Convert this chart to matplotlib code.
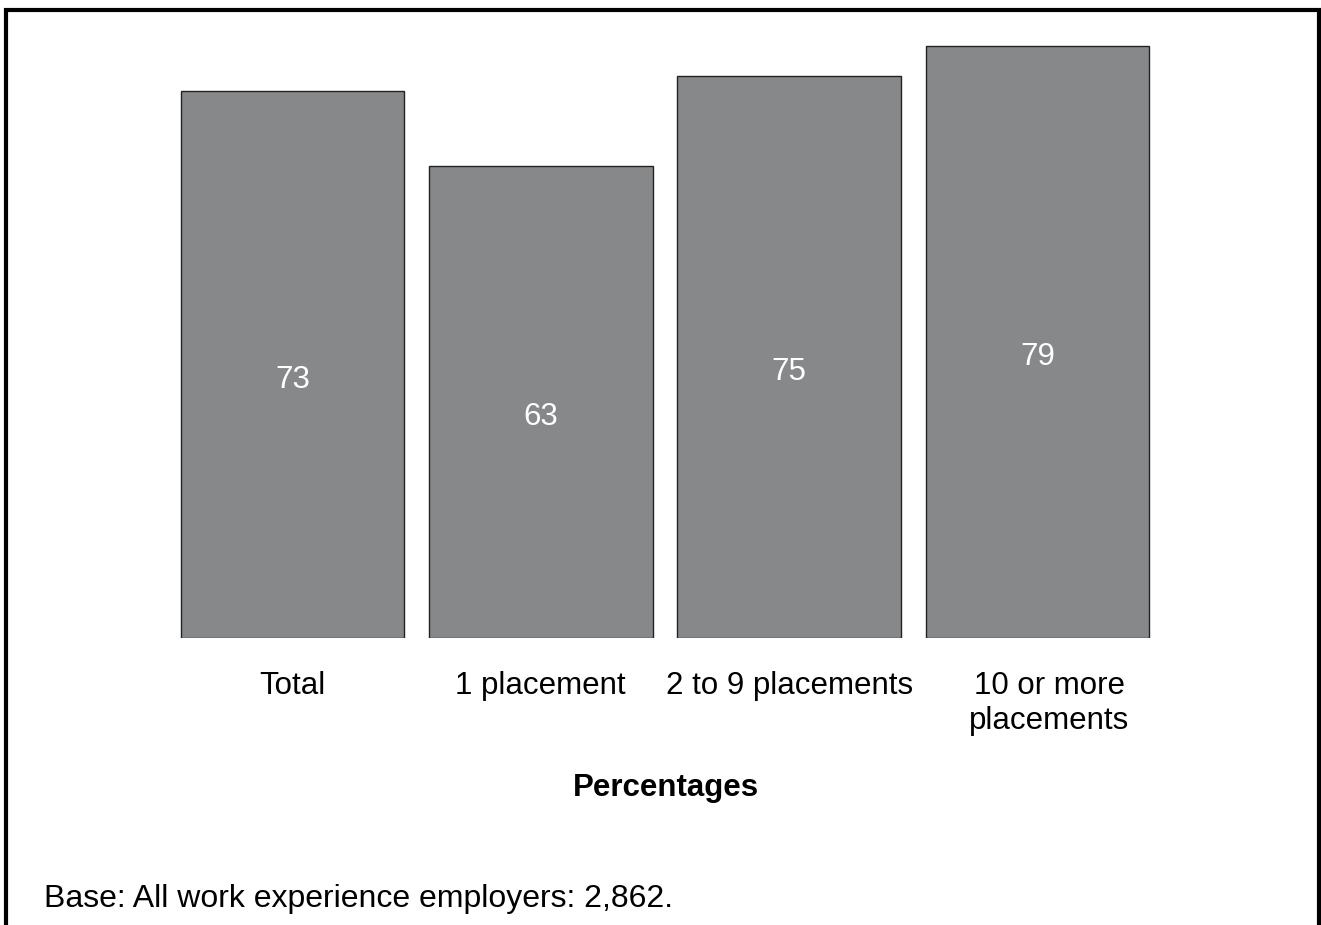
import matplotlib
matplotlib.use("Agg")
import matplotlib.pyplot as plt
import matplotlib.transforms as mtransforms
from matplotlib.lines import Line2D

categories = ["Total", "1 placement", "2 to 9 placements", "10 or more\nplacements"]
values = [73, 63, 75, 79]
axis_title = "Percentages"
base_note = "Base: All work experience employers: 2,862."

plt.rcParams['font.family'] = ['Liberation Sans', 'DejaVu Sans']

W, H = 1321, 925
fig = plt.figure(figsize=(W / 100, H / 100), dpi=100)

# axes placed so the bars land where they are in the reference
ax = fig.add_axes([168.3 / W, (H - 638) / H, 993.3 / W, 599 / H])
x = range(len(values))
bars = ax.bar(x, values, width=0.9, color="#87888a", edgecolor="#222222",
              linewidth=1.0)
ax.set_xlim(-0.5, len(values) - 0.5)
ax.set_ylim(0, 80)

for b, v in zip(bars, values):
    ax.text(b.get_x() + b.get_width() / 2, v / 2 - 2, str(v), ha="center",
            va="center", color="white", fontsize=22.5)

ax.set_xticks(list(x))
ax.set_xticklabels(categories, fontsize=22.5, linespacing=1.22)
ax.tick_params(axis="x", length=0, pad=24)
# the wrapped last label sits a little right of its bar in the original
lab = ax.get_xticklabels()[-1]
lab.set_transform(lab.get_transform() +
                  mtransforms.ScaledTranslation(0.12, 0, fig.dpi_scale_trans))
ax.set_yticks([])
for s in ax.spines.values():
    s.set_visible(False)

fig.text(666 / W, (H - 788) / H, axis_title, ha="center", va="center",
         fontsize=22.5, fontweight="bold")
fig.text(44 / W, (H - 907) / H, base_note, ha="left", va="baseline",
         fontsize=23)

# frame round the figure (open at the bottom)
lx, rx, ty = 5.5 / W, 1319 / W, (H - 10) / H
fig.add_artist(Line2D([lx, lx, rx, rx], [0, ty, ty, 0],
                      transform=fig.transFigure, color="black",
                      linewidth=3.0, solid_joinstyle="miter"))

fig.savefig("out.png", dpi=100)
